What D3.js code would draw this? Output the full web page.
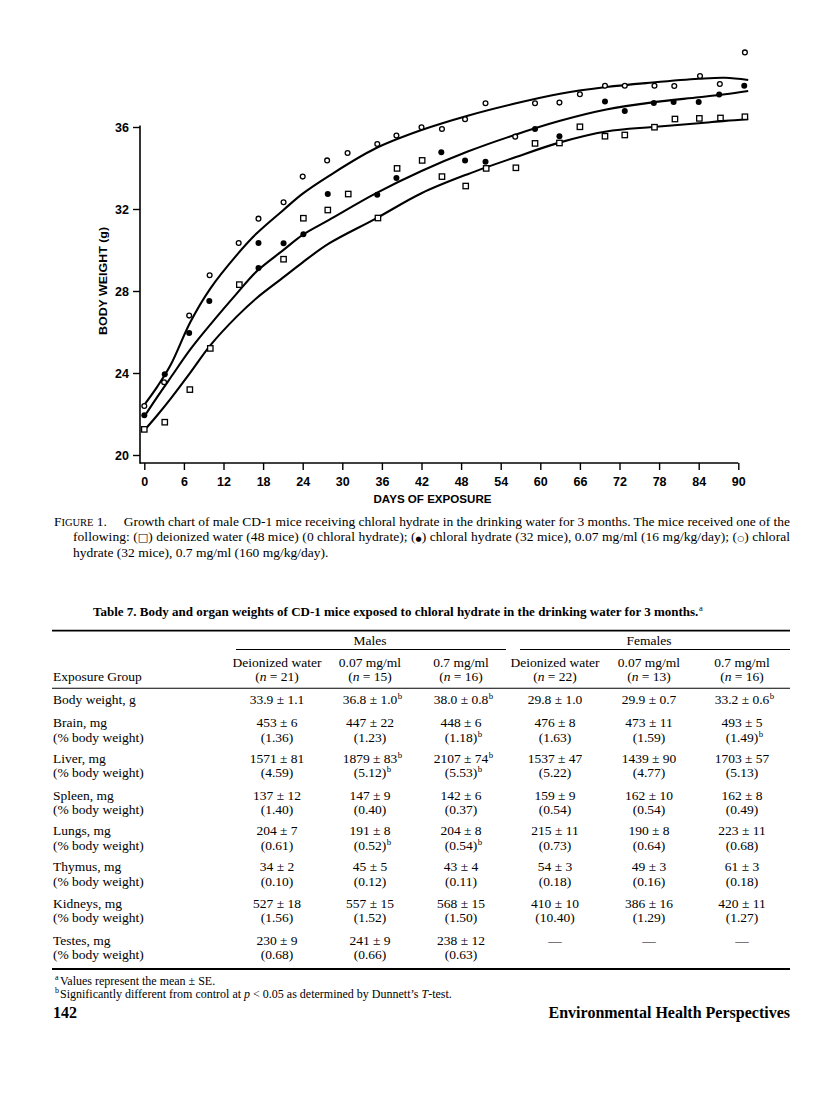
<!DOCTYPE html>
<html><head><meta charset="utf-8">
<script src="https://cdn.jsdelivr.net/npm/d3@7"></script>
<style>body{margin:0;background:#fff}</style>
</head><body>
<svg id="c" width="816" height="1104"></svg>
<script>
// ---------------- DATA ----------------
const xTicks = [0,6,12,18,24,30,36,42,48,54,60,66,72,78,84,90];
const yTicks = [20,24,28,32,36];

// (○) chloral hydrate 0.7 mg/ml
const highDays    = [0,3.0,6.8,9.9,14.3,17.3,21.1,24.0,27.7,30.8,35.3,38.2,42.0,45.1,48.6,51.7,56.2,59.2,62.9,66.0,69.8,72.8,77.3,80.3,84.2,87.2,91.0];
const highWeights = [22.39,23.55,26.8,28.77,30.34,31.53,32.33,33.58,34.37,34.73,35.17,35.58,35.99,35.9,36.38,37.16,35.53,37.16,37.19,37.6,38.01,38.01,38.01,38.0,38.49,38.1,39.64];
// (●) chloral hydrate 0.07 mg/ml
const lowDays     = [0,3.1,6.8,9.85,17.3,17.3,21.1,24.1,27.8,35.3,38.2,45.0,48.6,51.7,59.2,62.9,69.8,72.8,77.2,80.2,84.0,87.1,90.9];
const lowWeights  = [21.94,23.94,25.95,27.51,29.12,30.34,30.33,30.77,32.73,32.70,33.51,34.77,34.36,34.31,35.9,35.55,37.25,36.78,37.17,37.22,37.22,37.58,38.01];
// (□) deionized water
const waterDays   = [0,3.1,6.9,10.0,14.4,21.1,24.1,27.8,30.9,35.4,38.3,42.1,45.1,48.7,51.8,56.3,59.2,62.9,66.0,69.8,72.8,77.3,80.4,84.1,87.3,91.0];
const waterWeights= [21.25,21.6,23.19,25.2,28.31,29.55,31.55,31.95,32.73,31.56,33.98,34.37,33.58,33.12,33.98,34.01,35.2,35.22,36.01,35.55,35.61,35.99,36.39,36.42,36.44,36.5];

// fitted growth curves
const curveDays  = [0,2,4,7,10,14,17,21,24,28,35,42,49,56,63,70,77,84,88,91.5];
const highCurve  = [22.45,23.35,24.4,26.5,28.12,29.75,30.8,31.93,32.75,33.62,34.95,35.85,36.55,37.13,37.62,37.95,38.17,38.35,38.4,38.29];
const lowCurve   = [21.88,22.85,23.78,25.16,26.36,27.87,28.95,29.98,30.74,31.47,32.75,33.85,34.8,35.6,36.3,36.85,37.2,37.45,37.6,37.76];
const waterCurve = [21.2,21.95,22.75,24.03,25.35,26.75,27.65,28.65,29.4,30.32,31.52,32.77,33.7,34.5,35.25,35.78,36.0,36.18,36.3,36.38];

// table
const colHeads = ["Deionized water","0.07 mg/ml","0.7 mg/ml","Deionized water","0.07 mg/ml","0.7 mg/ml"];
const colN     = ["21","15","16","22","13","16"];
const sexHeads = ["Males","Females"];
const rowLabels = ["Body weight, g","Brain, mg","Liver, mg","Spleen, mg","Lungs, mg","Thymus, mg","Kidneys, mg","Testes, mg"];
const pctLabel = "(% body weight)";
const bodyWeight = ["33.9 ± 1.1","36.8 ± 1.0^b","38.0 ± 0.8^b","29.8 ± 1.0","29.9 ± 0.7","33.2 ± 0.6^b"];
const brainMg   = ["453 ± 6","447 ± 22","448 ± 6","476 ± 8","473 ± 11","493 ± 5"];
const brainPct  = ["(1.36)","(1.23)","(1.18)^b","(1.63)","(1.59)","(1.49)^b"];
const liverMg   = ["1571 ± 81","1879 ± 83^b","2107 ± 74^b","1537 ± 47","1439 ± 90","1703 ± 57"];
const liverPct  = ["(4.59)","(5.12)^b","(5.53)^b","(5.22)","(4.77)","(5.13)"];
const spleenMg  = ["137 ± 12","147 ± 9","142 ± 6","159 ± 9","162 ± 10","162 ± 8"];
const spleenPct = ["(1.40)","(0.40)","(0.37)","(0.54)","(0.54)","(0.49)"];
const lungsMg   = ["204 ± 7","191 ± 8","204 ± 8","215 ± 11","190 ± 8","223 ± 11"];
const lungsPct  = ["(0.61)","(0.52)^b","(0.54)^b","(0.73)","(0.64)","(0.68)"];
const thymusMg  = ["34 ± 2","45 ± 5","43 ± 4","54 ± 3","49 ± 3","61 ± 3"];
const thymusPct = ["(0.10)","(0.12)","(0.11)","(0.18)","(0.16)","(0.18)"];
const kidneysMg = ["527 ± 18","557 ± 15","568 ± 15","410 ± 10","386 ± 16","420 ± 11"];
const kidneysPct= ["(1.56)","(1.52)","(1.50)","(10.40)","(1.29)","(1.27)"];
const testesMg  = ["230 ± 9","241 ± 9","238 ± 12","—","—","—"];
const testesPct = ["(0.68)","(0.66)","(0.63)","","",""];

// ---------------- DRAW ----------------
const svg = d3.select("#c");
svg.append("rect").attr("width",816).attr("height",1104).attr("fill","#fff");

const SANS = "Liberation Sans, Arial, sans-serif";
const SERIF = "Liberation Serif, Times New Roman, serif";

const x = d3.scaleLinear().domain([0,90]).range([144.3,738.3]);
const y = d3.scaleLinear().domain([20,36]).range([455,127]);
const axisY = 463, axisX = 140;

// x axis
const gx = svg.append("g").attr("transform",`translate(0,${axisY})`)
  .call(d3.axisBottom(x).tickValues(xTicks).tickSize(7).tickFormat(d=>String(d)));
gx.select(".domain").remove();
gx.append("line").attr("x1",axisX).attr("x2",x(90)).attr("stroke","#000").attr("stroke-width",1.6);
gx.selectAll(".tick line").attr("stroke","#000").attr("stroke-width",1.4);
gx.selectAll(".tick text").attr("y",18.7).attr("dy","0.35em")
  .attr("font-family",SANS).attr("font-weight","bold").attr("font-size",12.5).attr("fill","#000");

// y axis
const gy = svg.append("g").attr("transform",`translate(${axisX},0)`)
  .call(d3.axisLeft(y).tickValues(yTicks).tickSize(7).tickFormat(d=>String(d)));
gy.select(".domain").remove();
gy.append("line").attr("y1",y(36)-1.5).attr("y2",axisY+0.8).attr("stroke","#000").attr("stroke-width",1.6);
gy.selectAll(".tick line").attr("stroke","#000").attr("stroke-width",1.4);
gy.selectAll(".tick text").attr("x",-11).attr("dy","0.35em")
  .attr("font-family",SANS).attr("font-weight","bold").attr("font-size",12.5).attr("fill","#000");

// axis titles
svg.append("text").attr("x",432.5).attr("y",499).attr("dy","0.35em").attr("text-anchor","middle")
  .attr("font-family",SANS).attr("font-weight","bold").attr("font-size",11)
  .attr("textLength",118).attr("lengthAdjust","spacingAndGlyphs").text("DAYS OF EXPOSURE");
svg.append("text").attr("transform","translate(103.3,281) rotate(-90)").attr("dy","0.35em").attr("text-anchor","middle")
  .attr("font-family",SANS).attr("font-weight","bold").attr("font-size",11)
  .attr("textLength",108).attr("lengthAdjust","spacingAndGlyphs").text("BODY WEIGHT (g)");

// curves
const line = d3.line().x(d=>x(d[0])).y(d=>y(d[1])).curve(d3.curveCatmullRom.alpha(0.5));
[highCurve,lowCurve,waterCurve].forEach(c=>{
  svg.append("path").attr("d",line(curveDays.map((d,i)=>[d,c[i]])))
    .attr("fill","none").attr("stroke","#000").attr("stroke-width",2.1).attr("stroke-linejoin","round");
});

// points
svg.append("g").selectAll("rect").data(waterDays.map((d,i)=>[d,waterWeights[i]])).join("rect")
  .attr("x",d=>x(d[0])-2.7).attr("y",d=>y(d[1])-2.7).attr("width",5.4).attr("height",5.4)
  .attr("fill","#fff").attr("stroke","#000").attr("stroke-width",1.3);
svg.append("g").selectAll("circle").data(highDays.map((d,i)=>[d,highWeights[i]])).join("circle")
  .attr("cx",d=>x(d[0])).attr("cy",d=>y(d[1])).attr("r",2.4)
  .attr("fill","#fff").attr("stroke","#000").attr("stroke-width",1.3);
svg.append("g").selectAll("circle").data(lowDays.map((d,i)=>[d,lowWeights[i]])).join("circle")
  .attr("cx",d=>x(d[0])).attr("cy",d=>y(d[1])).attr("r",3.0).attr("fill","#000");

// ---------------- CAPTION ----------------
const FS = 13.5;
function capLine(xs, yc, parts, len){
  const t = svg.append("text").attr("x",xs).attr("y",yc+4.5).attr("font-family",SERIF).attr("font-size",FS).attr("fill","#000");
  parts.forEach(p=>{ const s=t.append("tspan").text(p.t); if(p.fs) s.attr("font-size",p.fs); if(p.ff) s.attr("font-family",p.ff); if(p.fw) s.attr("font-weight",p.fw); if(p.fst) s.attr("font-style",p.fst); if(p.dy) s.attr("dy",p.dy); });
  if(len) t.attr("textLength",len).attr("lengthAdjust","spacing");
  return t;
}
capLine(54,521,[{t:"F"},{t:"IGURE",fs:10.5},{t:" 1.\u2003 Growth chart of male CD-1 mice receiving chloral hydrate in the drinking water for 3 months. The mice received one of the"}],736);
capLine(73,536.5,[{t:"following: ("},{t:"\u25A1",ff:"DejaVu Sans",fs:11},{t:") deionized water (48 mice) (0 chloral hydrate); ("},{t:"\u25CF",ff:"DejaVu Sans",fs:7},{t:") chloral hydrate (32 mice), 0.07 mg/ml (16 mg/kg/day); ("},{t:"\u25CB",ff:"DejaVu Sans",fs:8},{t:") chloral"}],717);
capLine(73,552,[{t:"hydrate (32 mice), 0.7 mg/ml (160 mg/kg/day)."}]);

// ---------------- TABLE ----------------
const L = 52, R = 790;
const colX = [277,370,461,555,649,742];
const sexX = [370,649];

function supText(xc, yc, str, opts){
  const [main, sup] = str.split("^");
  const fs = (opts && opts.fs) || FS;
  const t = svg.append("text").attr("x",xc).attr("y",yc+4.5).attr("text-anchor",(opts&&opts.anchor)||"middle")
    .attr("font-family",SERIF).attr("font-size",fs).attr("font-weight",(opts&&opts.fw)||"normal").attr("fill","#000").text(main);
  if(sup){
    const w = t.node().getComputedTextLength();
    const anchor=(opts&&opts.anchor)||"middle";
    const xe = anchor==="middle"? xc + w/2 : xc + w;
    svg.append("text").attr("x",xe+0.5).attr("y",yc-0.5).attr("font-family",SERIF).attr("font-size",fs*0.65)
      .attr("fill","#000").text(sup);
  }
  return t;
}

// title
supText(93,611.7,"Table 7. Body and organ weights of CD-1 mice exposed to chloral hydrate in the drinking water for 3 months.^a",{anchor:"start",fw:"bold",fs:13});

function rule(x1,x2,yy,w){ svg.append("line").attr("x1",x1).attr("x2",x2).attr("y1",yy).attr("y2",yy).attr("stroke","#000").attr("stroke-width",w); }
rule(L,R,630.7,1.8);
sexHeads.forEach((s,i)=> supText(sexX[i],640.5,s));
rule(236,506,649.5,1.1);
rule(520,R,649.5,1.1);
colHeads.forEach((h,i)=>{
  supText(colX[i],662,h);
  const t = svg.append("text").attr("x",colX[i]).attr("y",676+4.5).attr("text-anchor","middle")
    .attr("font-family",SERIF).attr("font-size",FS).attr("fill","#000");
  t.append("tspan").text("(");
  t.append("tspan").attr("font-style","italic").text("n");
  t.append("tspan").text(" = "+colN[i]+")");
});
svg.append("text").attr("x",53).attr("y",676+4.5).attr("font-family",SERIF).attr("font-size",FS).attr("fill","#000").text("Exposure Group");
rule(L,R,688.3,1.1);

const rowsMg  = [bodyWeight,brainMg,liverMg,spleenMg,lungsMg,thymusMg,kidneysMg,testesMg];
const rowsPct = [null,brainPct,liverPct,spleenPct,lungsPct,thymusPct,kidneysPct,testesPct];
const rowY = [699.3,722.7,758.3,795,830.7,866.7,903.3,940];
rowLabels.forEach((lab,r)=>{
  svg.append("text").attr("x",53).attr("y",rowY[r]+4.5).attr("font-family",SERIF).attr("font-size",FS).attr("fill","#000").text(lab);
  rowsMg[r].forEach((v,c)=> supText(colX[c],rowY[r],v));
  if(rowsPct[r]){
    svg.append("text").attr("x",53).attr("y",rowY[r]+14.3+4.5).attr("font-family",SERIF).attr("font-size",FS).attr("fill","#000").text(pctLabel);
    rowsPct[r].forEach((v,c)=>{ if(v) supText(colX[c],rowY[r]+14.3,v); });
  }
});
rule(L,R,969,1.8);

// footnotes
function foot(yc, sup, parts){
  svg.append("text").attr("x",55).attr("y",yc-0.5).attr("font-family",SERIF).attr("font-size",8).attr("fill","#000").text(sup);
  const t = svg.append("text").attr("x",60).attr("y",yc+4).attr("font-family",SERIF).attr("font-size",12).attr("fill","#000");
  parts.forEach(p=>{ const s=t.append("tspan").text(p.t); if(p.i) s.attr("font-style","italic"); });
}
foot(980.5,"a",[{t:"Values represent the mean ± SE."}]);
foot(993.5,"b",[{t:"Significantly different from control at "},{t:"p",i:1},{t:" < 0.05 as determined by Dunnett’s "},{t:"T",i:1},{t:"-test."}]);

// footer
svg.append("text").attr("x",53).attr("y",1012+5.5).attr("font-family",SERIF).attr("font-weight","bold").attr("font-size",16).attr("fill","#000").text("142");
svg.append("text").attr("x",R).attr("y",1012+5.5).attr("text-anchor","end").attr("font-family",SERIF).attr("font-weight","bold").attr("font-size",16).attr("fill","#000").text("Environmental Health Perspectives");
</script></body></html>
